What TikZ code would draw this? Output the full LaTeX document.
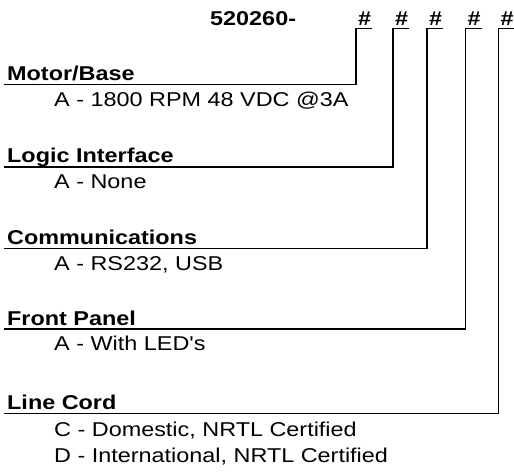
\documentclass[tikz,border=0pt]{standalone}
\usepackage{fontspec}
\setmainfont[FakeStretch=1.17, Ligatures=TeXOff]{Liberation Sans}
\usetikzlibrary{calc}
\tikzset{
  txt/.style={inner sep=0pt, anchor=base west, font=\fontsize{20}{24}\selectfont},
  head/.style={txt, font=\fontsize{20}{24}\selectfont\bfseries},
  hashmark/.style={head},
  conn/.style={draw=black, line width=1.6pt, line cap=rect, line join=miter}
}
\begin{document}
\begin{tikzpicture}[x=1pt,y=-1pt]
\useasboundingbox[fill=white] (0,0) rectangle (514,472);
\begin{scope}
\clip (0,0) rectangle (514,472);
% header
\node[head] (title) at (210,25) {520260-};
\node[hashmark] (h1) at (358,25) {\#};
\node[hashmark] (h2) at (395,25) {\#};
\node[hashmark] (h3) at (429,25) {\#};
\node[hashmark] (h4) at (467.5,25) {\#};
\node[hashmark] (h5) at (500.5,25) {\#};
% labels
\node[head] (l1) at (7,80.5) {Motor/Base};
\node[head] (l2) at (7,162.7) {Logic Interface};
\node[head] (l3) at (7,244.3) {Communications};
\node[head] (l4) at (7,325) {Front Panel};
\node[head] (l5) at (7,409.3) {Line Cord};
% options
\node[txt] (o1) at (54,106) {A - 1800 RPM 48 VDC @3A};
\node[txt] (o2) at (54,188.5) {A - None};
\node[txt] (o3) at (54,270) {A - RS232, USB};
\node[txt] (o4) at (54,350.5) {A - With LED's};
\node[txt] (o5a) at (54,436.5) {C - Domestic, NRTL Certified};
\node[txt] (o5b) at (54,462) {D - International, NRTL Certified};
% connectors
\foreach \i in {1,...,5}{
  \draw[conn] ([yshift=-3.5pt]h\i.base east) -- ([xshift=-2pt,yshift=-3.5pt]h\i.base west)
     |- ([xshift=-2pt,yshift=-4pt]l\i.base west);
}
\end{scope}
\end{tikzpicture}
\end{document}
